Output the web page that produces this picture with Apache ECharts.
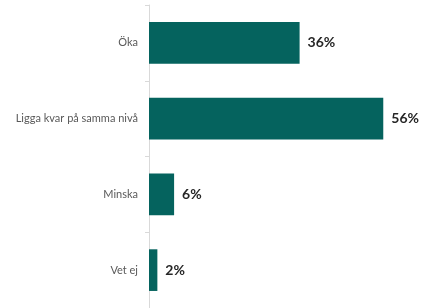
<!DOCTYPE html>
<html>
<head>
<meta charset="utf-8">
<script src="https://cdn.jsdelivr.net/npm/echarts@6/dist/echarts.min.js"></script>
<style>
  html, body { margin: 0; padding: 0; background: #fff; }
  #chart { width: 421px; height: 308px; }
</style>
</head>
<body>
<div id="chart"></div>
<script>
  // svar, uppifrån och ned
  var categories = ['Öka', 'Ligga kvar på samma nivå', 'Minska', 'Vet ej'];
  var values = [36, 56, 6, 2];

  var myChart = echarts.init(document.getElementById('chart'));
  var option = {
    animation: false,
    grid: { left: 149, right: 21, top: 5, bottom: -3 },
    xAxis: {
      type: 'value',
      min: 0,
      max: 60,
      show: false
    },
    yAxis: {
      type: 'category',
      inverse: true,
      data: categories,
      axisLine: { show: true, lineStyle: { color: '#d9d9d9', width: 1 } },
      axisTick: { show: true, length: 4, lineStyle: { color: '#d9d9d9' } },
      axisLabel: {
        color: '#595959',
        fontSize: 11,
        fontFamily: 'Lato',
        margin: 11
      }
    },
    series: [
      {
        type: 'bar',
        data: values,
        barWidth: '55%',
        itemStyle: { color: '#05635e' },
        label: {
          show: true,
          position: 'right',
          distance: 8,
          formatter: '{c}%',
          color: '#262626',
          fontSize: 14,
          fontWeight: 'bold',
          fontFamily: 'Lato'
        }
      }
    ]
  };
  myChart.setOption(option);
</script>
</body>
</html>
